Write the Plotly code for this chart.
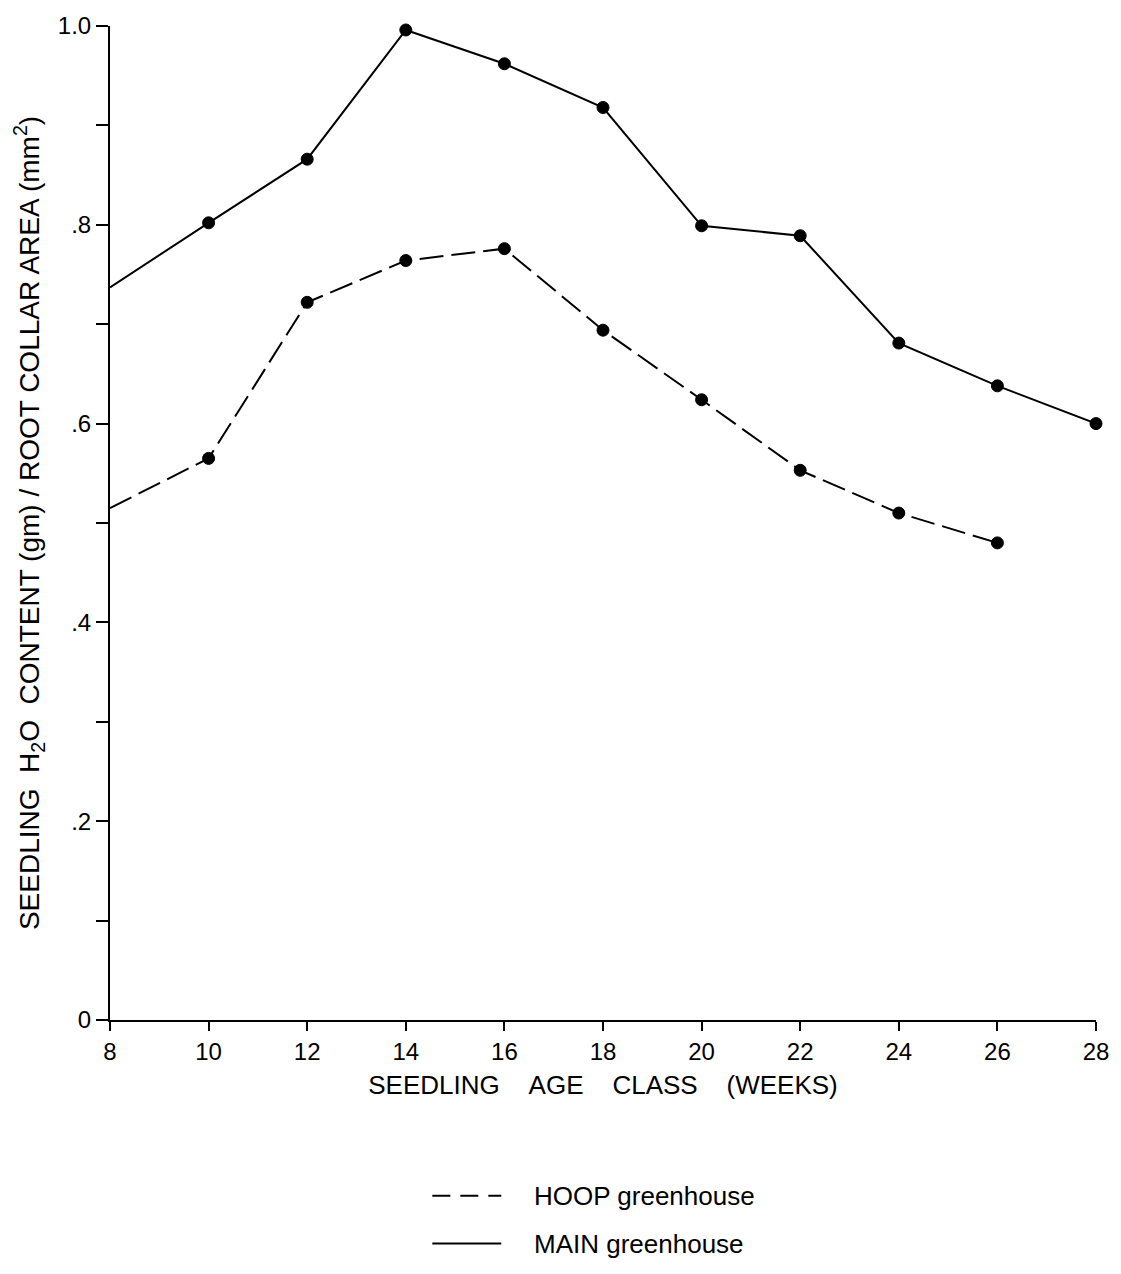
import plotly.graph_objects as go

# Seedling age classes (weeks)
weeks_main = [8, 10, 12, 14, 16, 18, 20, 22, 24, 26, 28]
weeks_hoop = [8, 10, 12, 14, 16, 18, 20, 22, 24, 26]

# H2O content (gm) / root collar area (mm^2)
main_vals = [0.737, 0.802, 0.866, 0.996, 0.962, 0.918, 0.799, 0.789, 0.681, 0.638, 0.600]
hoop_vals = [0.515, 0.565, 0.722, 0.764, 0.776, 0.694, 0.624, 0.553, 0.510, 0.480]

x_ticks = [8, 10, 12, 14, 16, 18, 20, 22, 24, 26, 28]
y_ticks = [0, 0.2, 0.4, 0.6, 0.8, 1.0]
y_ticktext = ["0", ".2", ".4", ".6", ".8", "1.0"]

FONT = "Liberation Sans"
INK = "black"


def marker_sizes(n):
    # the first (8-week) value only anchors the line; no dot is drawn there
    return [0] + [12] * (n - 1)


def dots(n):
    return dict(size=marker_sizes(n), color=INK, opacity=1,
                line=dict(width=[0] + [1] * (n - 1), color=INK))


fig = go.Figure()

fig.add_trace(go.Scatter(
    x=weeks_hoop, y=hoop_vals, mode="lines+markers", name="HOOP greenhouse",
    line=dict(color=INK, width=2, dash="24px,8px"),
    marker=dots(len(weeks_hoop)),
    cliponaxis=False, showlegend=False,
))
fig.add_trace(go.Scatter(
    x=weeks_main, y=main_vals, mode="lines+markers", name="MAIN greenhouse",
    line=dict(color=INK, width=2),
    marker=dots(len(weeks_main)),
    cliponaxis=False, showlegend=False,
))

NB = "\u00a0"

fig.update_layout(
    width=1121, height=1274,
    margin=dict(l=110, r=23, t=24, b=254),
    paper_bgcolor="white", plot_bgcolor="white",
    font=dict(family=FONT, color=INK),
    xaxis=dict(
        range=[8, 28], tickvals=x_ticks, ticktext=[str(v) for v in x_ticks],
        ticks="outside", ticklen=9, tickwidth=2, tickcolor=INK,
        showline=True, linewidth=2, linecolor=INK,
        showgrid=False, zeroline=False,
        tickfont=dict(size=24, family=FONT),
        title=dict(
            text=f"SEEDLING{NB*4}AGE{NB*4}CLASS{NB*4}(WEEKS)",
            font=dict(size=26, family=FONT), standoff=12,
        ),
    ),
    yaxis=dict(
        range=[0, 1.0], tickvals=y_ticks, ticktext=y_ticktext,
        ticks="outside", ticklen=12, tickwidth=2, tickcolor=INK,
        minor=dict(dtick=0.1, ticks="outside", ticklen=12, tickwidth=2,
                   tickcolor=INK, showgrid=False),
        showline=True, linewidth=2, linecolor=INK,
        showgrid=False, zeroline=False,
        tickfont=dict(size=24, family=FONT),
        title=dict(
            text=f"SEEDLING{NB*2}H<sub>2</sub>O{NB*2}CONTENT (gm) / ROOT COLLAR AREA (mm<sup>2</sup>)",
            font=dict(size=28, family=FONT), standoff=10,
        ),
    ),
)

# Legend drawn below the axis: line sample followed by its label
legend_rows = [("HOOP greenhouse", "18px,10px", -0.1767), ("MAIN greenhouse", "solid", -0.2249)]
for label, dash, yp in legend_rows:
    fig.add_shape(type="line", xref="paper", yref="paper",
                  x0=0.3269, x1=0.3968, y0=yp, y1=yp,
                  line=dict(color=INK, width=2, dash=dash))
    fig.add_annotation(xref="paper", yref="paper", x=0.4282, y=yp,
                       xanchor="left", yanchor="middle", showarrow=False,
                       text=label, font=dict(size=26, family=FONT, color=INK))

fig.write_html("out.html")
